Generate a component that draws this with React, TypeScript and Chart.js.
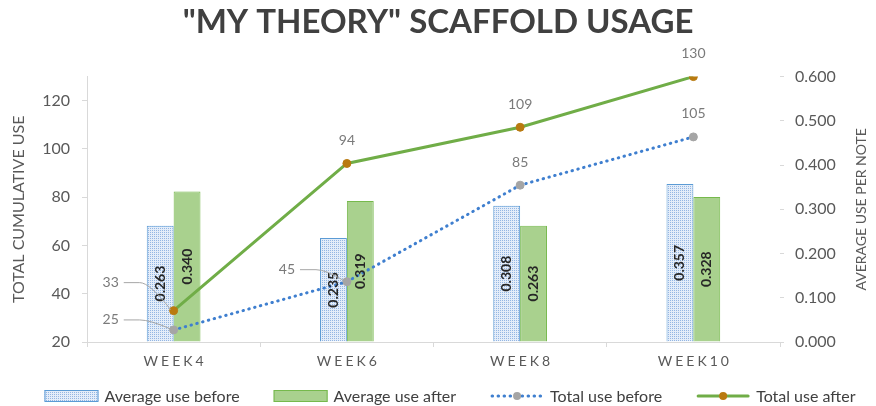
import React, { useEffect, useRef } from 'react';
import { Chart, registerables } from 'chart.js';

Chart.register(...registerables);

const weeks = ['WEEK4', 'WEEK6', 'WEEK8', 'WEEK10'];
const avgBefore = [0.263, 0.235, 0.308, 0.357];
const avgAfter = [0.34, 0.319, 0.263, 0.328];
const totalBefore = [25, 45, 85, 105];
const totalAfter = [33, 94, 109, 130];
const leftTicks = [20, 40, 60, 80, 100, 120];
const rightTicks = [0, 0.1, 0.2, 0.3, 0.4, 0.5, 0.6];
const seriesNames = ['Average use before', 'Average use after', 'Total use before', 'Total use after'];
const titleText = '"MY THEORY" SCAFFOLD USAGE';
const leftTitle = 'TOTAL CUMULATIVE USE';
const rightTitle = 'AVERAGE USE PER NOTE';

const FONT = 'Lato, "Open Sans", sans-serif';
const BLUE_LINE = '#3f7fcf';
const GREEN_LINE = '#70ad47';
const GRAY_MARK = '#a5a5a5';
const BROWN_MARK = '#b97a10';
const BLUE_BORDER = '#5b9bd5';
const GREEN_FILL = '#a9d18e';
const GREEN_BORDER = '#76b94c';

// label offsets (dx, dy) for labels placed left of a point with a leader line
const leaderOffsets: Record<string, [number, number]> = {
  '2-0': [-63, -10],
  '2-1': [-60, -12],
  '3-0': [-63, -28],
};

function makePattern(): CanvasPattern | string {
  const c = document.createElement('canvas');
  c.width = 2;
  c.height = 2;
  const p = c.getContext('2d');
  if (!p) return '#dce7f5';
  p.fillStyle = '#e4edf9';
  p.fillRect(0, 0, 2, 2);
  p.fillStyle = '#94b6e3';
  p.fillRect(0, 0, 1, 1);
  const ctx = document.createElement('canvas').getContext('2d');
  return ctx ? (ctx.createPattern(c, 'repeat') as CanvasPattern) : '#dce7f5';
}

function drawLegendSymbol(ctx: CanvasRenderingContext2D, kind: number, x: number, y: number, w: number, pattern: any) {
  ctx.save();
  if (kind === 0 || kind === 1) {
    ctx.fillStyle = kind === 0 ? pattern : GREEN_FILL;
    ctx.fillRect(x, y - 6, w, 12);
    ctx.strokeStyle = kind === 0 ? BLUE_BORDER : GREEN_BORDER;
    ctx.lineWidth = 1;
    ctx.strokeRect(x + 0.5, y - 5.5, w - 1, 11);
  } else {
    ctx.beginPath();
    ctx.moveTo(x + 2, y);
    ctx.lineTo(x + w - 2, y);
    ctx.lineWidth = 3;
    ctx.lineCap = 'round';
    if (kind === 2) {
      ctx.strokeStyle = BLUE_LINE;
      ctx.setLineDash([0.5, 5.5]);
    } else {
      ctx.strokeStyle = GREEN_LINE;
    }
    ctx.stroke();
    ctx.setLineDash([]);
    ctx.beginPath();
    ctx.arc(x + w / 2, y, 4, 0, Math.PI * 2);
    ctx.fillStyle = kind === 2 ? GRAY_MARK : BROWN_MARK;
    ctx.fill();
  }
  ctx.restore();
}

export default function App() {
  const ref = useRef<HTMLCanvasElement | null>(null);

  useEffect(() => {
    if (!ref.current) return;
    const pattern = makePattern();

    const labelPlugin = {
      id: 'valueLabels',
      afterDatasetsDraw(chart: any) {
        const ctx: CanvasRenderingContext2D = chart.ctx;
        ctx.save();
        // bar labels
        [0, 1].forEach((di) => {
          const meta = chart.getDatasetMeta(di);
          meta.data.forEach((el: any, i: number) => {
            const { x, y, base } = el.getProps(['x', 'y', 'base'], true);
            const val = chart.data.datasets[di].data[i] as number;
            ctx.save();
            ctx.translate(x, (y + base) / 2);
            ctx.rotate(-Math.PI / 2);
            ctx.font = `bold 14px ${FONT}`;
            ctx.fillStyle = '#262626';
            ctx.textAlign = 'center';
            ctx.textBaseline = 'middle';
            ctx.fillText(val.toFixed(3), 0, 0);
            ctx.restore();
          });
        });
        // line labels
        [2, 3].forEach((di) => {
          const meta = chart.getDatasetMeta(di);
          meta.data.forEach((el: any, i: number) => {
            const { x, y } = el.getProps(['x', 'y'], true);
            const val = chart.data.datasets[di].data[i] as number;
            const text = String(val);
            ctx.font = `14px ${FONT}`;
            ctx.fillStyle = '#7a7a7a';
            ctx.textAlign = 'center';
            ctx.textBaseline = 'middle';
            const off = leaderOffsets[`${di}-${i}`];
            if (off) {
              const lx = x + off[0];
              const ly = y + off[1];
              ctx.fillText(text, lx, ly);
              const tw = ctx.measureText(text).width;
              ctx.beginPath();
              ctx.strokeStyle = '#a6a6a6';
              ctx.lineWidth = 1;
              const sx = lx + tw / 2 + 5;
              ctx.moveTo(sx, ly);
              ctx.lineTo(sx + 16, ly);
              ctx.quadraticCurveTo(sx + 26, ly, x - 3, y - 1);
              ctx.stroke();
            } else {
              ctx.fillText(text, x, y - 23);
            }
          });
        });
        ctx.restore();
      },
      afterDraw(chart: any) {
        const ctx: CanvasRenderingContext2D = chart.ctx;
        const area = chart.chartArea;
        // x category labels with letter spacing
        const xs = chart.scales.x;
        ctx.save();
        ctx.font = `14px ${FONT}`;
        ctx.fillStyle = '#595959';
        ctx.textAlign = 'center';
        ctx.textBaseline = 'middle';
        (ctx as any).letterSpacing = '3px';
        weeks.forEach((w, i) => {
          ctx.fillText(w, xs.getPixelForTick(i) + 1.5, 361);
        });
        (ctx as any).letterSpacing = '0px';
        ctx.restore();

        // right axis title, reading bottom-to-top
        ctx.save();
        ctx.translate(chart.width - 15, (area.top + area.bottom) / 2);
        ctx.rotate(-Math.PI / 2);
        ctx.font = `14px ${FONT}`;
        ctx.fillStyle = '#595959';
        ctx.textAlign = 'center';
        ctx.textBaseline = 'middle';
        ctx.fillText(rightTitle, 0, 0);
        ctx.restore();

        // legend
        ctx.save();
        ctx.font = `16px ${FONT}`;
        ctx.fillStyle = '#404040';
        ctx.textBaseline = 'middle';
        ctx.textAlign = 'left';
        const symW = 54;
        const gapSym = 6;
        const gapItem = 34;
        const widths = seriesNames.map((s) => symW + gapSym + ctx.measureText(s).width);
        const total = widths.reduce((a, b) => a + b, 0) + gapItem * (seriesNames.length - 1);
        let cx = 450 - total / 2;
        const ly = 396;
        seriesNames.forEach((s, k) => {
          drawLegendSymbol(ctx, k, cx, ly, symW, pattern);
          ctx.fillStyle = '#404040';
          ctx.fillText(s, cx + symW + gapSym, ly + 1);
          cx += widths[k] + gapItem;
        });
        ctx.restore();
      },
    };

    const chart = new Chart(ref.current, {
      type: 'bar',
      data: {
        labels: weeks,
        datasets: [
          {
            type: 'bar',
            label: seriesNames[0],
            data: avgBefore,
            yAxisID: 'y1',
            backgroundColor: pattern as any,
            borderColor: BLUE_BORDER,
            borderWidth: 1,
            barPercentage: 1,
            categoryPercentage: 0.31,
            order: 2,
          },
          {
            type: 'bar',
            label: seriesNames[1],
            data: avgAfter,
            yAxisID: 'y1',
            backgroundColor: GREEN_FILL,
            borderColor: GREEN_BORDER,
            borderWidth: 1,
            barPercentage: 1,
            categoryPercentage: 0.31,
            order: 2,
          },
          {
            type: 'line',
            label: seriesNames[2],
            data: totalBefore,
            yAxisID: 'y',
            borderColor: BLUE_LINE,
            borderWidth: 3,
            borderDash: [0.5, 5.5],
            borderCapStyle: 'round',
            pointRadius: 4,
            pointBackgroundColor: GRAY_MARK,
            pointBorderColor: GRAY_MARK,
            pointBorderWidth: 1,
            tension: 0,
            fill: false,
            order: 1,
          },
          {
            type: 'line',
            label: seriesNames[3],
            data: totalAfter,
            yAxisID: 'y',
            borderColor: GREEN_LINE,
            borderWidth: 3,
            pointRadius: 4,
            pointBackgroundColor: BROWN_MARK,
            pointBorderColor: BROWN_MARK,
            pointBorderWidth: 1,
            tension: 0,
            fill: false,
            order: 1,
          },
        ] as any,
      },
      options: {
        animation: false,
        responsive: true,
        maintainAspectRatio: false,
        devicePixelRatio: 1,
        layout: { padding: { left: 0, right: 0, top: 0, bottom: 30 } },
        plugins: {
          legend: { display: false },
          tooltip: { enabled: false },
          title: {
            display: true,
            text: titleText,
            color: '#404040',
            font: { family: FONT, size: 33, weight: 'bold' },
            padding: { top: 3, bottom: 34 },
          },
        },
        scales: {
          x: {
            type: 'category',
            offset: true,
            grid: { display: true, drawOnChartArea: false, drawTicks: true, tickLength: 5, color: '#d9d9d9', offset: true },
            border: { display: true, color: '#d9d9d9' },
            ticks: { display: false },
            afterFit: (s: any) => {
              s.height = 34;
            },
          },
          y: {
            type: 'linear',
            position: 'left',
            min: 20,
            max: 130,
            afterBuildTicks: (s: any) => {
              s.ticks = leftTicks.map((v) => ({ value: v }));
            },
            grid: { drawOnChartArea: false, drawTicks: true, tickLength: 5, color: '#d9d9d9' },
            border: { display: true, color: '#d9d9d9' },
            ticks: { padding: 12, color: '#595959', font: { family: FONT, size: 16 } },
            title: {
              display: true,
              text: leftTitle,
              color: '#595959',
              font: { family: FONT, size: 16 },
              padding: { top: 9, bottom: 0 },
            },
            afterFit: (s: any) => {
              s.width = 87;
            },
          },
          y1: {
            type: 'linear',
            position: 'right',
            min: 0,
            max: 0.6,
            afterBuildTicks: (s: any) => {
              s.ticks = rightTicks.map((v) => ({ value: v }));
            },
            grid: { drawOnChartArea: false, drawTicks: true, tickLength: 4, color: '#d9d9d9' },
            border: { display: false },
            ticks: {
              padding: 11,
              color: '#595959',
              font: { family: FONT, size: 16 },
              callback: (v: any) => Number(v).toFixed(3),
            },
            title: { display: false },
            afterFit: (s: any) => {
              s.width = 96;
            },
          },
        },
      } as any,
      plugins: [labelPlugin],
    });

    return () => {
      chart.destroy();
    };
  }, []);

  return (
    <div style={{ position: 'absolute', left: 0, top: 0, width: 876, height: 406, background: '#fff' }}>
      <canvas ref={ref} />
    </div>
  );
}
